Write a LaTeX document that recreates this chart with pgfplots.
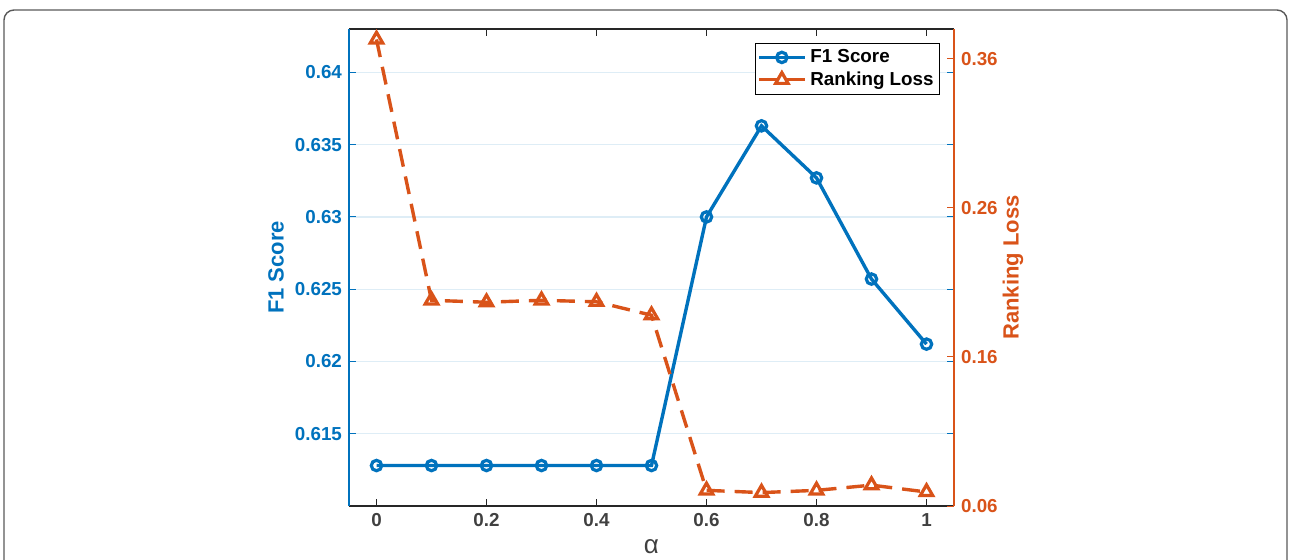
\documentclass[border=0pt]{standalone}
\usepackage{pgfplots}
\pgfplotsset{compat=1.18}
\usepackage{fontspec}
\setmainfont{Liberation Sans}
\definecolor{cBlue}{HTML}{0072BD}
\definecolor{cOrange}{HTML}{D95319}
\definecolor{cAxis}{HTML}{262626}
\definecolor{cTick}{HTML}{404040}

% 1 px of the reference = 0.5pt
\begin{document}
\begin{tikzpicture}
\useasboundingbox (0,0) rectangle (644.5pt,279.5pt);
\draw[black!65, line width=0.7pt, rounded corners=5pt]
  (2pt,-6pt) -- (2pt,274.5pt) -- (643.5pt,274.5pt) -- (643.5pt,-6pt);

\pgfplotsset{
  every axis/.append style={
    scale only axis, width=302.5pt, height=238.5pt,
    at={(174.5pt,26.5pt)}, anchor=south west,
    xmin=-0.05, xmax=1.05,
    tick align=inside, major tick length=3.5pt,
    /pgf/number format/assume math mode=true,
    tick label style={font=\fontsize{9.4}{11}\selectfont\bfseries},
    label style={font=\fontsize{11}{13}\selectfont\bfseries},
  },
}

\begin{axis}[
  ymin=0.61, ymax=0.643,
  xtick={0,0.2,0.4,0.6,0.8,1},
  ytick={0.615,0.62,0.625,0.63,0.635,0.64},
  yticklabel style={color=cBlue, /pgf/number format/fixed, /pgf/number format/precision=3},
  xticklabel style={color=cTick},
  separate axis lines,
  x axis line style={cAxis, line width=0.6pt},
  y axis line style={cBlue, line width=0.6pt},
  xtick style={cAxis, line width=0.5pt},
  ytick style={cBlue, line width=0.5pt},
  ymajorgrids, grid style={cBlue!13, line width=0.6pt},
  ylabel={F1 Score}, ylabel style={color=cBlue, at={(axis description cs:-0.1207,0.5)}, anchor=center},
  xlabel={\fontsize{13}{14}\mdseries α}, xlabel style={color=cTick, at={(axis description cs:0.5,-0.086)}, anchor=center},
  clip=false,
]
\addplot[cBlue, line width=1.7pt, mark=o, mark size=2.6pt, mark options={solid, line width=1.6pt}]
  coordinates {(0,0.6128) (0.1,0.6128) (0.2,0.6128) (0.3,0.6128) (0.4,0.6128) (0.5,0.6128)
               (0.6,0.6300) (0.7,0.6363) (0.8,0.6327) (0.9,0.6257) (1.0,0.6212)};
\end{axis}

\begin{axis}[
  ymin=0.06, ymax=0.38,
  axis x line=none, axis y line*=right,
  ytick={0.06,0.16,0.26,0.36},
  yticklabel style={color=cOrange, /pgf/number format/fixed, /pgf/number format/precision=2},
  y axis line style={cOrange, line width=0.6pt, -},
  ytick style={cOrange, line width=0.5pt},
  ylabel={Ranking Loss}, ylabel style={color=cOrange, at={(axis description cs:1.0975,0.5)}, anchor=center},
  clip=false,
  legend style={at={(0.977,0.971)}, anchor=north east, draw=black, line width=0.5pt,
    font=\fontsize{9.4}{11}\selectfont\bfseries, inner sep=1pt, row sep=-1pt,
    cells={anchor=west}},
  legend image code/.code={\draw[mark repeat=2, mark phase=2] plot coordinates {(0cm,0cm) (0.4cm,0cm) (0.8cm,0cm)};},
]
\addlegendimage{cBlue, line width=1.7pt, mark=o, mark size=2.6pt, mark options={solid, line width=1.6pt}}
\addlegendentry{F1 Score}
\addplot[cOrange, line width=1.7pt, dash pattern=on 9pt off 5pt, mark=triangle, mark size=3.6pt, mark options={solid, line width=1.6pt}]
  coordinates {(0,0.373) (0.1,0.198) (0.2,0.1967) (0.3,0.198) (0.4,0.197) (0.5,0.188)
               (0.6,0.0705) (0.7,0.069) (0.8,0.0705) (0.9,0.074) (1.0,0.0694)};
\addlegendentry{Ranking Loss}
\end{axis}
\end{tikzpicture}
\end{document}
